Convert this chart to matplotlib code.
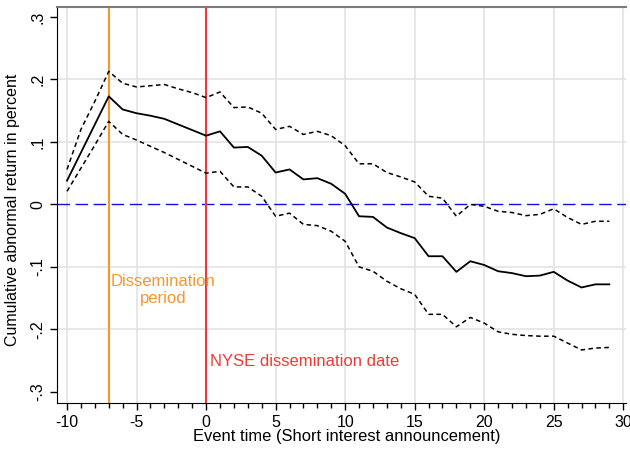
import matplotlib
matplotlib.use("Agg")
import matplotlib.pyplot as plt
from matplotlib.ticker import MultipleLocator

plt.rcParams['font.family'] = ['Liberation Sans', 'DejaVu Sans']
plt.rcParams['axes.unicode_minus'] = False

# event time and cumulative abnormal returns (percent)
event_time = list(range(-10, 30))
car = [0.038, 0.083, 0.128, 0.173, 0.152, 0.146, 0.142, 0.137, 0.128, 0.119,
       0.110, 0.117, 0.091, 0.092, 0.078, 0.051, 0.056, 0.040, 0.042, 0.033,
       0.017, -0.019, -0.020, -0.037, -0.046, -0.054, -0.083, -0.083, -0.108, -0.091,
       -0.097, -0.107, -0.110, -0.115, -0.114, -0.108, -0.122, -0.133, -0.128, -0.128]
ci_upper = [0.056, 0.120, 0.165, 0.213, 0.194, 0.188, 0.190, 0.192, 0.185, 0.179,
            0.171, 0.180, 0.155, 0.156, 0.146, 0.120, 0.125, 0.112, 0.117, 0.110,
            0.094, 0.065, 0.065, 0.051, 0.044, 0.036, 0.013, 0.010, -0.019, 0.000,
            -0.003, -0.011, -0.013, -0.018, -0.016, -0.007, -0.021, -0.032, -0.027, -0.027]
ci_lower = [0.021, 0.058, 0.095, 0.133, 0.112, 0.103, 0.093, 0.083, 0.072, 0.061,
            0.050, 0.053, 0.028, 0.028, 0.013, -0.019, -0.014, -0.032, -0.034, -0.043,
            -0.059, -0.100, -0.107, -0.123, -0.135, -0.144, -0.176, -0.176, -0.196, -0.181,
            -0.190, -0.204, -0.208, -0.210, -0.211, -0.211, -0.222, -0.233, -0.230, -0.229]

yticks = [-0.3, -0.2, -0.1, 0, 0.1, 0.2, 0.3]
ytick_labels = ['-.3', '-.2', '-.1', '0', '.1', '.2', '.3']

orange = '#F7962F'
red = '#F03A3A'

fig = plt.figure(figsize=(6.3, 4.51), dpi=100)
ax = fig.add_axes([0.0905, 0.1064, 0.9032, 0.878])

# grid
for x in range(-10, 31, 5):
    ax.axvline(x, color='#e3e3e3', lw=1.2, zorder=0)
for y in [-0.2, -0.1, 0.1, 0.2]:
    ax.axhline(y, color='#e3e3e3', lw=1.2, zorder=0)

ax.axhline(0, color='#1010e0', lw=1.0, dashes=(9, 4), zorder=1)
ax.axvline(-7, color=orange, lw=1.5, zorder=2)
ax.axvline(0, color=red, lw=1.5, zorder=2)

ax.plot(event_time, ci_upper, color='black', lw=1.1, dashes=(3, 2.2), zorder=3)
ax.plot(event_time, ci_lower, color='black', lw=1.1, dashes=(3, 2.2), zorder=3)
ax.plot(event_time, car, color='black', lw=1.3, zorder=4)

ax.text(-3.1, -0.137, 'Dissemination\nperiod', color=orange, fontsize=12,
        ha='center', va='center', linespacing=1.1)
ax.text(0.3, -0.251, 'NYSE dissemination date', color=red, fontsize=12,
        ha='left', va='center')

ax.set_xlim(-10.72, 30.2)
ax.set_ylim(-0.318, 0.316)
ax.xaxis.set_major_locator(MultipleLocator(5))
ax.xaxis.set_minor_locator(MultipleLocator(1))
ax.set_yticks(yticks)
ax.set_yticklabels(ytick_labels, rotation=90, va='center')
ax.tick_params(axis='both', which='major', length=5, width=1, labelsize=11.5, direction='out')
ax.tick_params(axis='x', which='minor', length=3.5, width=1)

ax.spines['right'].set_visible(False)
ax.spines['top'].set_color('#7a7a7a')
ax.spines['top'].set_linewidth(1.5)

ax.set_xlabel('Event time (Short interest announcement)', fontsize=11.9)
ax.set_ylabel('Cumulative abnormal return in percent', fontsize=11.5)
ax.xaxis.set_label_coords(0.509, -0.065)
ax.yaxis.set_label_coords(-0.065, 0.487)

fig.savefig('out.png', dpi=100)
